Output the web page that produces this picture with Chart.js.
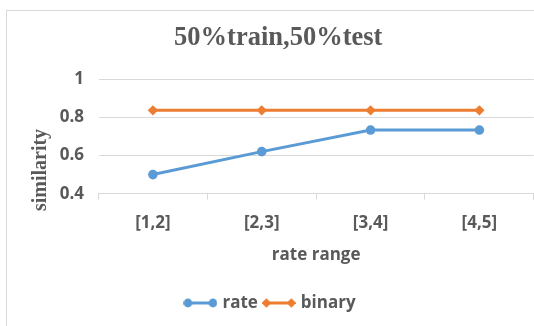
<!DOCTYPE html>
<html>
<head>
<meta charset="utf-8">
<script src="https://cdn.jsdelivr.net/npm/chart.js@4"></script>
<style>
  html, body { margin: 0; padding: 0; width: 534px; height: 326px; overflow: hidden; background: #ffffff; }
  #frame { position: absolute; left: 6px; top: 10px; width: 580px; height: 360px; border: 1px solid #d9d9d9; box-sizing: border-box; }
  #wrap { position: absolute; left: 7px; top: 11px; width: 532px; height: 315px; }
  canvas { display: block; }
</style>
</head>
<body>
<div id="frame"></div>
<div id="wrap"><canvas id="chart" width="532" height="315" style="width:532px;height:315px"></canvas></div>
<script>
// Rate ranges on the x axis
const categories = ['[1,2]', '[2,3]', '[3,4]', '[4,5]'];
// Similarity per rate range
const rateValues = [0.5, 0.62, 0.733, 0.733];
const binaryValues = [0.836, 0.836, 0.836, 0.836];
// Value axis ticks
const yTicks = [0.4, 0.6, 0.8, 1];

const TEXT = '#595959';
const GRID = '#d9d9d9';
const BLUE = '#5b9bd5';
const ORANGE = '#ed7d31';
const SANS = '"Open Sans", "Liberation Sans", sans-serif';
const SERIF = '"Liberation Serif", "Times New Roman", serif';

// Legend sample: a short line with a marker at each end
function legendSample(color, style) {
  const c = document.createElement('canvas');
  c.width = 34; c.height = 12;
  const g = c.getContext('2d');
  g.strokeStyle = color; g.fillStyle = color; g.lineWidth = 3;
  g.beginPath(); g.moveTo(4, 6); g.lineTo(30, 6); g.stroke();
  [4.5, 29.5].forEach(x => {
    g.beginPath();
    if (style === 'circle') {
      g.arc(x, 6, 4.4, 0, Math.PI * 2);
    } else {
      g.moveTo(x, 1.3); g.lineTo(x + 4.7, 6); g.lineTo(x, 10.7); g.lineTo(x - 4.7, 6); g.closePath();
    }
    g.fill();
  });
  return c;
}

// Rotated value-axis title, and a small nudge of the chart title
const axisTitles = {
  id: 'axisTitles',
  afterLayout(chart) {
    if (chart.titleBlock) {
      chart.titleBlock.left += 7;
      chart.titleBlock.right += 7;
    }
  },
  afterDraw(chart) {
    const ctx = chart.ctx;
    ctx.save();
    ctx.translate(chart.chartArea.left - 58, chart.chartArea.top + 91);
    ctx.rotate(-Math.PI / 2);
    ctx.font = 'bold 20px ' + SERIF;
    ctx.fillStyle = TEXT;
    ctx.textAlign = 'center';
    ctx.textBaseline = 'middle';
    ctx.fillText('similarity', 0, 0);
    ctx.restore();
  }
};

new Chart(document.getElementById('chart'), {
  type: 'line',
  data: {
    labels: categories,
    datasets: [
      {
        label: 'rate',
        data: rateValues,
        borderColor: BLUE,
        backgroundColor: BLUE,
        borderWidth: 3,
        pointStyle: 'circle',
        pointRadius: 4.8,
        pointBorderWidth: 0,
        tension: 0,
        fill: false
      },
      {
        label: 'binary',
        data: binaryValues,
        borderColor: ORANGE,
        backgroundColor: ORANGE,
        borderWidth: 3,
        pointStyle: 'rectRot',
        pointRadius: 5.2,
        pointBorderWidth: 0,
        tension: 0,
        fill: false
      }
    ]
  },
  options: {
    responsive: false,
    animation: false,
    layout: { padding: { left: 0, right: 3.5, top: 0, bottom: 4.5 } },
    plugins: {
      title: {
        display: true,
        text: '50%train,50%test',
        color: TEXT,
        font: { family: SERIF, size: 26.5, weight: 'bold' },
        padding: { top: 11.5, bottom: 24.7 }
      },
      legend: {
        position: 'bottom',
        labels: {
          color: TEXT,
          font: { family: SANS, size: 17, weight: 'bold' },
          usePointStyle: true,
          pointStyleWidth: 27,
          padding: 7.5,
          generateLabels(chart) {
            return chart.data.datasets.map((ds, i) => ({
              text: ds.label,
              fontColor: TEXT,
              pointStyle: legendSample(ds.borderColor, ds.pointStyle),
              datasetIndex: i,
              hidden: false,
              lineWidth: 0
            }));
          }
        }
      },
      tooltip: { enabled: false }
    },
    scales: {
      x: {
        offset: true,
        afterFit(scale) { scale.height = 93.3; },
        grid: { offset: true, drawOnChartArea: false, drawTicks: true, tickLength: 6, color: GRID },
        border: { display: true, color: GRID, width: 1 },
        ticks: { color: TEXT, font: { family: SANS, size: 17, weight: 'bold' }, padding: 13.5 },
        title: {
          display: true,
          text: 'rate range',
          color: TEXT,
          font: { family: SANS, size: 17, weight: 'bold' },
          padding: { top: 0, bottom: 21.8 }
        }
      },
      y: {
        min: 0.4,
        max: 1,
        afterFit(scale) { scale.width = 91.5; },
        afterBuildTicks(scale) { scale.ticks = yTicks.map(v => ({ value: v })); },
        grid: { color: GRID, drawTicks: false, lineWidth: 1 },
        border: { display: false },
        ticks: {
          color: TEXT,
          font: { family: SANS, size: 17, weight: 'bold' },
          padding: 14.5,
          callback: v => String(Math.round(v * 10) / 10)
        }
      }
    }
  },
  plugins: [axisTitles]
});
</script>
</body>
</html>
